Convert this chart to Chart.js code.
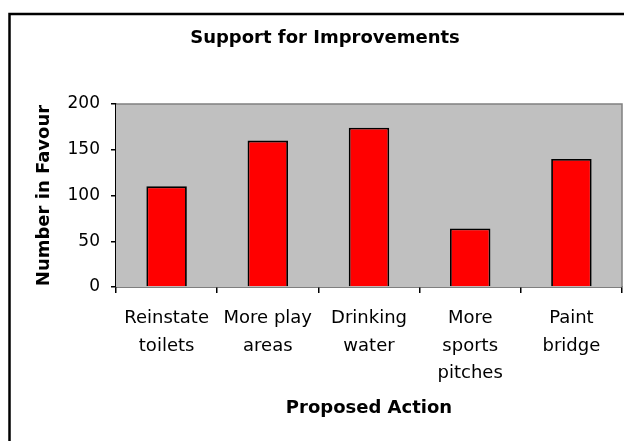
<!DOCTYPE html>
<html>
<head>
<meta charset="utf-8">
<script src="https://cdn.jsdelivr.net/npm/chart.js@4.4.0/dist/chart.umd.min.js"></script>
<style>
  html, body { margin: 0; padding: 0; background: #ffffff; overflow: hidden; }
  #wrap { position: relative; width: 624px; height: 441px; }
</style>
</head>
<body>
<div id="wrap"><canvas id="chart"></canvas></div>
<script>
// Support for Improvements - bar chart
const chartTitle = "Support for Improvements";
const categories = [
  ["Reinstate", "toilets"],
  ["More play", "areas"],
  ["Drinking", "water"],
  ["More", "sports", "pitches"],
  ["Paint", "bridge"],
];
const votes = [110, 160, 174, 64, 140];
const yTicks = [0, 50, 100, 150, 200];
const xTitle = "Proposed Action";
const yTitle = "Number in Favour";

const FONT = "'DejaVu Sans', 'Liberation Sans', Arial, sans-serif";

// plot background, frame, title
const decorPlugin = {
  id: "decor",
  beforeDatasetsDraw(chart) {
    const { ctx, chartArea: a } = chart;
    ctx.save();
    ctx.fillStyle = "#c0c0c0";
    ctx.fillRect(a.left, a.top, a.right - a.left, a.bottom - a.top);
    ctx.strokeStyle = "#808080";
    ctx.lineWidth = 1.5;
    ctx.beginPath();
    ctx.moveTo(a.left, a.top);
    ctx.lineTo(a.right, a.top);
    ctx.lineTo(a.right, a.bottom);
    ctx.stroke();
    ctx.restore();
  },
  afterDraw(chart) {
    const { ctx } = chart;
    ctx.save();
    // outer frame (cut off at right and bottom)
    ctx.strokeStyle = "#000000";
    ctx.lineWidth = 2.5;
    ctx.beginPath();
    ctx.moveTo(9.5, chart.height + 5);
    ctx.lineTo(9.5, 14);
    ctx.lineTo(chart.width + 5, 14);
    ctx.stroke();
    // title
    ctx.fillStyle = "#000000";
    ctx.font = "bold 18px " + FONT;
    ctx.textAlign = "center";
    ctx.textBaseline = "middle";
    ctx.fillText(chartTitle, 325, 38);
    ctx.restore();
  },
};

const ctx = document.getElementById("chart").getContext("2d");
new Chart(ctx, {
  type: "bar",
  data: {
    labels: categories,
    datasets: [
      {
        data: votes,
        backgroundColor: "#ff0000",
        borderColor: "#000000",
        borderWidth: 1.8,
        categoryPercentage: 0.8,
        barPercentage: 0.5,
      },
    ],
  },
  options: {
    responsive: true,
    maintainAspectRatio: false,
    animation: false,
    layout: { padding: { top: 104, right: 2, left: 0, bottom: 0 } },
    plugins: {
      legend: { display: false },
      tooltip: { enabled: false },
      title: { display: false },
    },
    scales: {
      x: {
        grid: {
          display: true,
          drawOnChartArea: false,
          drawTicks: true,
          tickLength: 6,
          color: "#000000",
          lineWidth: 1.5,
        },
        border: { display: true, color: "#000000", width: 1.5 },
        ticks: {
          color: "#000000",
          font: { family: FONT, size: 18, lineHeight: 1.55 },
          maxRotation: 0,
          autoSkip: false,
          padding: 11,
        },
        title: {
          display: true,
          text: xTitle,
          color: "#000000",
          font: { family: FONT, size: 18, weight: "bold" },
          padding: { top: 0, bottom: 22 },
        },
        afterFit(scale) {
          scale.height = 441 - 287;
        },
      },
      y: {
        min: 0,
        max: 200,
        afterBuildTicks(scale) {
          scale.ticks = yTicks.map((v) => ({ value: v }));
        },
        grid: {
          display: true,
          drawOnChartArea: false,
          drawTicks: true,
          tickLength: 5,
          color: "#000000",
          lineWidth: 1.5,
        },
        border: { display: true, color: "#000000", width: 1.5 },
        ticks: {
          color: "#000000",
          font: { family: FONT, size: 17 },
          padding: 11,
        },
        title: {
          display: true,
          text: yTitle,
          color: "#000000",
          font: { family: FONT, size: 18, weight: "bold" },
          padding: { top: 34, bottom: 0 },
        },
        afterFit(scale) {
          scale.width = 116;
        },
      },
    },
  },
  plugins: [decorPlugin],
});
</script>
</body>
</html>
